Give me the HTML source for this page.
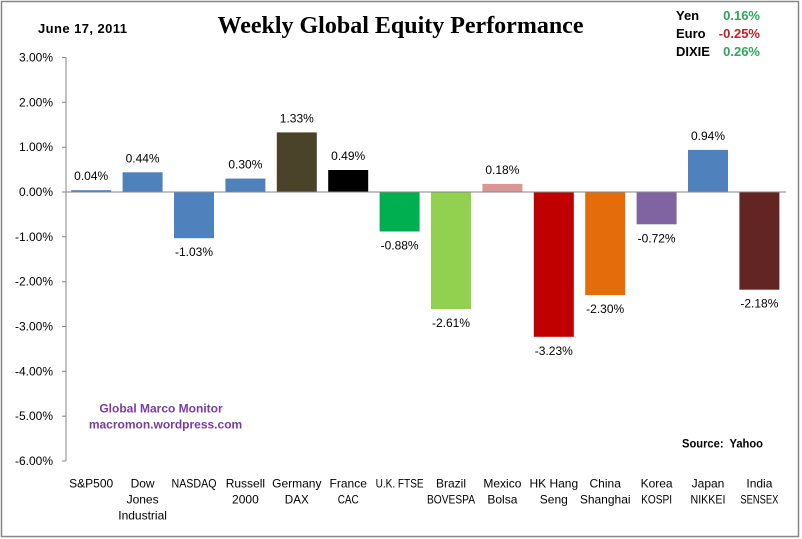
<!DOCTYPE html>
<html><head><meta charset="utf-8"><style>
html,body{margin:0;padding:0;background:#fff;}
svg{display:block;}
text{font-family:"Liberation Sans",sans-serif;}
</style></head><body>
<svg width="802" height="539" viewBox="0 0 802 539" xmlns="http://www.w3.org/2000/svg">
<rect x="0" y="0" width="802" height="539" fill="#fff"/>
<rect x="1.5" y="1.5" width="797" height="535" fill="none" stroke="#868686" stroke-width="1.5"/>

<!-- title -->
<text x="400.5" y="33" text-anchor="middle" font-family="'Liberation Serif',serif" font-weight="bold" font-size="24" style="font-family:'Liberation Serif',serif">Weekly Global Equity Performance</text>
<text x="38" y="33" font-weight="bold" font-size="13" textLength="89">June 17, 2011</text>

<!-- currencies -->
<g font-weight="bold" font-size="13">
<text x="676" y="20">Yen</text>
<text x="676" y="38">Euro</text>
<text x="676" y="56">DIXIE</text>
<text x="760" y="20" text-anchor="end" fill="#2ea65a">0.16%</text>
<text x="760" y="38" text-anchor="end" fill="#c0202a">-0.25%</text>
<text x="760" y="56" text-anchor="end" fill="#2ea65a">0.26%</text>
</g>

<!-- y axis -->
<g stroke="#868686" stroke-width="1">
<line x1="66" y1="57.5" x2="66" y2="461"/>
<line x1="62" y1="57.5" x2="66" y2="57.5"/>
<line x1="62" y1="102.3" x2="66" y2="102.3"/>
<line x1="62" y1="147.2" x2="66" y2="147.2"/>
<line x1="62" y1="192" x2="66" y2="192"/>
<line x1="62" y1="236.8" x2="66" y2="236.8"/>
<line x1="62" y1="281.7" x2="66" y2="281.7"/>
<line x1="62" y1="326.5" x2="66" y2="326.5"/>
<line x1="62" y1="371.3" x2="66" y2="371.3"/>
<line x1="62" y1="416.2" x2="66" y2="416.2"/>
<line x1="62" y1="461" x2="66" y2="461"/>
</g>
<g font-size="12" text-anchor="end" fill="#000">
<text x="53" y="61.5">3.00%</text>
<text x="53" y="106.3">2.00%</text>
<text x="53" y="151.2">1.00%</text>
<text x="53" y="196">0.00%</text>
<text x="53" y="240.8">-1.00%</text>
<text x="53" y="285.7">-2.00%</text>
<text x="53" y="330.5">-3.00%</text>
<text x="53" y="375.3">-4.00%</text>
<text x="53" y="420.2">-5.00%</text>
<text x="53" y="465">-6.00%</text>
</g>

<!-- bars -->
<rect x="71.2" y="190.2" width="40" height="1.8" fill="#4f81bd"/>
<rect x="122.6" y="172.3" width="40" height="19.7" fill="#4f81bd"/>
<rect x="174.0" y="192" width="40" height="46.2" fill="#4f81bd"/>
<rect x="225.4" y="178.55" width="40" height="13.45" fill="#4f81bd"/>
<rect x="276.8" y="132.4" width="40" height="59.6" fill="#4a4229"/>
<rect x="328.2" y="170.0" width="40" height="22" fill="#000000"/>
<rect x="379.6" y="192" width="40" height="39.5" fill="#00b050"/>
<rect x="431.0" y="192" width="40" height="117" fill="#92d050"/>
<rect x="482.4" y="183.9" width="40" height="8.1" fill="#d99694"/>
<rect x="533.8" y="192" width="40" height="144.8" fill="#c00000"/>
<rect x="585.2" y="192" width="40" height="103.1" fill="#e46c0a"/>
<rect x="636.6" y="192" width="40" height="32.3" fill="#8064a2"/>
<rect x="688.0" y="149.9" width="40" height="42.1" fill="#4f81bd"/>
<rect x="739.4" y="192" width="40" height="97.7" fill="#632523"/>

<line x1="66" y1="192" x2="786" y2="192" stroke="#868686" stroke-width="1"/>

<!-- data labels -->
<g font-size="12" text-anchor="middle" fill="#000">
<text x="91.2" y="180.2">0.04%</text>
<text x="142.6" y="162.3">0.44%</text>
<text x="194.0" y="256.2">-1.03%</text>
<text x="245.4" y="168.5">0.30%</text>
<text x="296.8" y="122.4">1.33%</text>
<text x="348.2" y="160.0">0.49%</text>
<text x="399.6" y="249.5">-0.88%</text>
<text x="451.0" y="327">-2.61%</text>
<text x="502.4" y="173.9">0.18%</text>
<text x="553.8" y="354.8">-3.23%</text>
<text x="605.2" y="313.1">-2.30%</text>
<text x="656.6" y="242.3">-0.72%</text>
<text x="708.0" y="139.9">0.94%</text>
<text x="759.4" y="307.7">-2.18%</text>
</g>

<!-- category labels -->
<g font-size="12" text-anchor="middle" fill="#000">
<text x="91.2" y="487.5">S&amp;P500</text>
<text x="142.6" y="487.5">Dow</text>
<text x="142.6" y="503.5">Jones</text>
<text x="142.6" y="519.5">Industrial</text>
<text x="194.0" y="487.5" textLength="45" lengthAdjust="spacingAndGlyphs">NASDAQ</text>
<text x="245.4" y="487.5">Russell</text>
<text x="245.4" y="503.5">2000</text>
<text x="296.8" y="487.5">Germany</text>
<text x="296.8" y="503.5" textLength="24" lengthAdjust="spacingAndGlyphs">DAX</text>
<text x="348.2" y="487.5">France</text>
<text x="348.2" y="503.5" textLength="21" lengthAdjust="spacingAndGlyphs">CAC</text>
<text x="399.6" y="487.5" textLength="48" lengthAdjust="spacingAndGlyphs">U.K. FTSE</text>
<text x="451.0" y="487.5">Brazil</text>
<text x="451.0" y="503.5" textLength="48" lengthAdjust="spacingAndGlyphs">BOVESPA</text>
<text x="502.4" y="487.5">Mexico</text>
<text x="502.4" y="503.5">Bolsa</text>
<text x="553.8" y="487.5">HK Hang</text>
<text x="553.8" y="503.5">Seng</text>
<text x="605.2" y="487.5">China</text>
<text x="605.2" y="503.5">Shanghai</text>
<text x="656.6" y="487.5">Korea</text>
<text x="656.6" y="503.5" textLength="31" lengthAdjust="spacingAndGlyphs">KOSPI</text>
<text x="708.0" y="487.5">Japan</text>
<text x="708.0" y="503.5" textLength="35" lengthAdjust="spacingAndGlyphs">NIKKEI</text>
<text x="759.4" y="487.5">India</text>
<text x="759.4" y="503.5" textLength="38" lengthAdjust="spacingAndGlyphs">SENSEX</text>
</g>

<!-- watermark -->
<g font-weight="bold" font-size="12" text-anchor="middle" fill="#7a3aa8">
<text x="161" y="412.5">Global Marco Monitor</text>
<text x="165.5" y="428.5">macromon.wordpress.com</text>
</g>
<text x="682" y="447.5" font-weight="bold" font-size="12" fill="#000" xml:space="preserve" textLength="81" lengthAdjust="spacingAndGlyphs">Source:  Yahoo</text>
</svg>
</body></html>
